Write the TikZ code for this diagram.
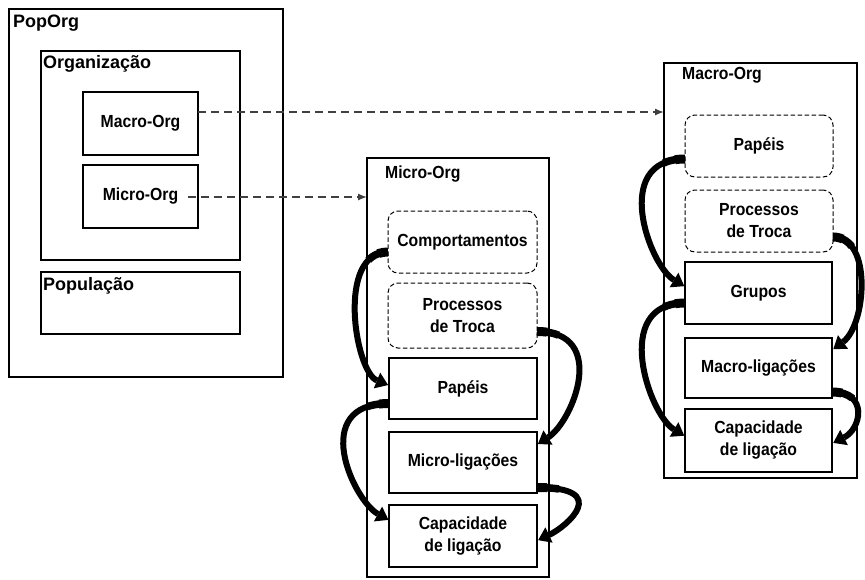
\documentclass[tikz,border=0pt]{standalone}
\usepackage{fontspec}
\setmainfont{Liberation Sans}
\newfontfamily\narrowsans[FakeStretch=0.9]{Liberation Sans}
\usetikzlibrary{calc,arrows.meta}

% Curved arrow, thicker at its start: #1 start, #2 control 1, #3 control 2, #4 head base
\newcommand\bendarrow[4]{%
  \draw[bendline] (#1) .. controls (#2) and (#3) .. (#4);
  \draw[bendline, line width=7.5pt, dash pattern=on 22pt off 2000pt] (#1) .. controls (#2) and (#3) .. (#4);
  \draw[bendline, line width=9pt, dash pattern=on 10pt off 2000pt] (#1) .. controls (#2) and (#3) .. (#4);
  \fill[arrowfill] ($(#4)!8.5pt!-90:(#3)$) -- ($(#4)!12pt!180:(#3)$) -- ($(#4)!8.5pt!90:(#3)$) -- cycle;}

\begin{document}
\begin{tikzpicture}[x=1pt,y=-1pt,
  box/.style={draw=black, line width=1.2pt, fill=white, inner sep=0pt, outer sep=0pt},
  dbox/.style={draw=black, line width=1pt, dash pattern=on 4.5pt off 2.5pt,
               rounded corners=10pt, fill=white, inner sep=0pt, outer sep=0pt},
  ttl/.style={font=\fontsize{18}{20}\selectfont\bfseries, anchor=base west, inner sep=0pt},
  sub/.style={font=\narrowsans\fontsize{17.5}{20}\selectfont\bfseries, anchor=base west, inner sep=0pt},
  lbl/.style={font=\narrowsans\fontsize{17.5}{22}\selectfont\bfseries, align=center},
  link/.style={draw=black!75, line width=1.3pt, dash pattern=on 8pt off 5pt,
               -{Latex[length=9pt,width=7pt]}},
  bendline/.style={draw=black, line width=6pt, line cap=butt},
  arrowfill/.style={fill=black}
]
\useasboundingbox (0,0) rectangle (865,579);
\fill[white] (0,0) rectangle (865,579);

% ---------- PopOrg ----------
\node[box, minimum width=274pt, minimum height=368pt] (pop) at (146,193) {};
\node[ttl] (tpop) at (13,27) {PopOrg};
\node[box, minimum width=199pt, minimum height=209pt] (org) at (140.5,155.5) {};
\node[ttl] (torg) at (43,68) {Organização};
\node[box, lbl, minimum width=115pt, minimum height=63pt] (macroin) at (140.5,123.5) {Macro-Org};
\node[box, lbl, minimum width=115pt, minimum height=63pt] (microin) at (140.5,196.5) {Micro-Org};
\node[box, minimum width=199pt, minimum height=62pt] (popl) at (140.5,303) {};
\node[ttl] (tpopl) at (43,290) {População};

% ---------- Micro-Org ----------
\node[box, minimum width=182pt, minimum height=419pt] (mbig) at (458,367.5) {};
\node[sub] (tmicro) at (385,178) {Micro-Org};
\node[dbox, lbl, minimum width=149pt, minimum height=62pt] (mcomp) at (462.5,242) {Comportamentos};
\node[dbox, lbl, minimum width=149pt, minimum height=65pt] (mproc) at (462.5,315.5) {Processos\\de Troca};
\node[box, lbl, minimum width=148pt, minimum height=61pt] (mpap) at (463,388.5) {Papéis};
\node[box, lbl, minimum width=148pt, minimum height=61pt] (mlig) at (463,462.5) {Micro-ligações};
\node[box, lbl, minimum width=148pt, minimum height=62pt] (mcap) at (463,536) {Capacidade\\de ligação};

% ---------- Macro-Org ----------
\node[box, minimum width=193pt, minimum height=415pt] (kbig) at (760.5,270.5) {};
\node[sub] (tmacro) at (682,79) {Macro-Org};
\node[dbox, lbl, minimum width=148pt, minimum height=62pt] (kpap) at (759,146) {Papéis};
\node[dbox, lbl, minimum width=148pt, minimum height=62pt] (kproc) at (759,221) {Processos\\de Troca};
\node[box, lbl, minimum width=147pt, minimum height=62pt] (kgrp) at (758.5,293) {Grupos};
\node[box, lbl, minimum width=147pt, minimum height=60pt] (klig) at (758.5,368) {Macro-ligações};
\node[box, lbl, minimum width=147pt, minimum height=63pt] (kcap) at (758.5,440.5) {Capacidade\\de ligação};

% ---------- dashed links ----------
\coordinate (l1s) at ($(macroin.east)+(0,-11.5)$);
\draw[link] (l1s) -- (l1s -| kbig.west);
\coordinate (l2s) at ($(microin.east)+(-10,0.5)$);
\draw[link] (l2s) -- (l2s -| mbig.west);

% ---------- curved arrows, Micro-Org ----------
\coordinate (m1a) at ($(mcomp.west)+(0,10)$);
\coordinate (m1b) at ($(m1a)+(-52,0)$);
\coordinate (m1d) at ($(mpap.west)+(-12,-8)$);
\coordinate (m1c) at ($(m1d)+(-22,-9)$);
\bendarrow{m1a}{m1b}{m1c}{m1d}

\coordinate (m2a) at ($(mpap.west)+(0,15)$);
\coordinate (m2b) at ($(m2a)+(-80,0)$);
\coordinate (m2d) at ($(mcap.west)+(-11,-22)$);
\coordinate (m2c) at ($(m2d)+(-25,-14)$);
\bendarrow{m2a}{m2b}{m2c}{m2d}

\coordinate (m3a) at ($(mproc.east)+(0,16)$);
\coordinate (m3b) at ($(m3a)+(72,0)$);
\coordinate (m3d) at ($(mlig.east)+(11,-25)$);
\coordinate (m3c) at ($(m3d)+(25,-16)$);
\bendarrow{m3a}{m3b}{m3c}{m3d}

\coordinate (m4a) at ($(mlig.east)+(0,25)$);
\coordinate (m4b) at ($(m4a)+(75,0)$);
\coordinate (m4d) at ($(mcap.east)+(12,-1)$);
\coordinate (m4c) at ($(m4d)+(18,-8.5)$);
\bendarrow{m4a}{m4b}{m4c}{m4d}

% ---------- curved arrows, Macro-Org ----------
\coordinate (k1a) at ($(kpap.west)+(0,13)$);
\coordinate (k1b) at ($(k1a)+(-74,0)$);
\coordinate (k1d) at ($(kgrp.west)+(-11,-13)$);
\coordinate (k1c) at ($(k1d)+(-25,-15)$);
\bendarrow{k1a}{k1b}{k1c}{k1d}

\coordinate (k2a) at ($(kgrp.west)+(0,10)$);
\coordinate (k2b) at ($(k2a)+(-74,0)$);
\coordinate (k2d) at ($(kcap.west)+(-11,-11)$);
\coordinate (k2c) at ($(k2d)+(-25,-15)$);
\bendarrow{k2a}{k2b}{k2c}{k2d}

\coordinate (k3a) at ($(kproc.east)+(0,16)$);
\coordinate (k3b) at ($(k3a)+(40,0)$);
\coordinate (k3d) at ($(klig.east)+(11,-26)$);
\coordinate (k3c) at ($(k3d)+(23,-17)$);
\bendarrow{k3a}{k3b}{k3c}{k3d}

\coordinate (k4a) at ($(klig.east)+(0,24)$);
\coordinate (k4b) at ($(k4a)+(37,0)$);
\coordinate (k4d) at ($(kcap.east)+(12,-3)$);
\coordinate (k4c) at ($(k4d)+(17,-8.5)$);
\bendarrow{k4a}{k4b}{k4c}{k4d}
\end{tikzpicture}
\end{document}
